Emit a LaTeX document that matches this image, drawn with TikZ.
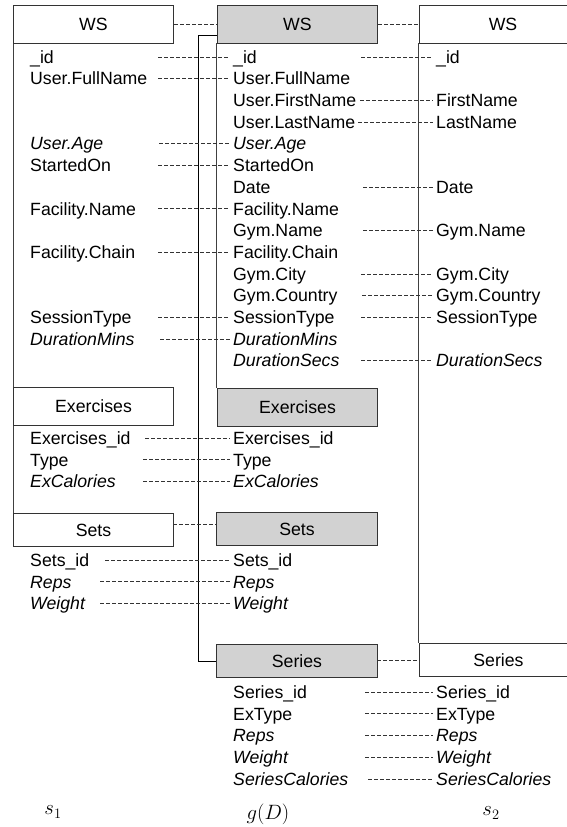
\documentclass[tikz,border=0pt]{standalone}
\usepackage{fontspec}
\setmainfont{Liberation Sans}
\newcommand\fldfont{\fontsize{17.7}{21.7}\selectfont}
\newcommand\lblfont{\fontsize{20.74}{25}\selectfont}
\tikzset{
  hdr/.style={draw=black!80, line width=1pt, fill=white, inner sep=0pt,
              anchor=north west, minimum width=160pt, minimum height=38pt, font=\fldfont},
  hdrg/.style={hdr, fill=gray!35},
  fld/.style={anchor=west, inner xsep=3.5pt, inner ysep=0pt,
              text height=12.7pt, text depth=0pt, font=\fldfont},
  ifld/.style={fld, font=\fldfont\itshape},
  conn/.style={draw=black!80, line width=0.6pt, dash pattern=on 3.5pt off 2.5pt},
  outline/.style={draw=black!75, line width=0.9pt},
  lbl/.style={font=\lblfont},
}
\begin{document}
\begin{tikzpicture}[x=1pt, y=-1pt]
\clip (0,0) rectangle (567,827);

% ---- table outlines -------------------------------------------------
\coordinate (s1bot) at (13,529);
\draw[outline] (13,43) -- (s1bot);
\draw[outline] (216.5,43) -- (216.5,388);
\draw[outline] (418.5,43) -- (418.5,643);
\coordinate (gtop) at (198,35);
\coordinate (gbot) at (198,661);
\draw[draw=black, line width=0.9pt] (217,35) -- (gtop) -- (gbot) -- (216,661);

% ---- header boxes -----------------------------------------------------
\node[hdr]  (s1ws)  at (13,5)    {WS};
\node[hdrg] (gws)   at (217,5)   {WS};
\node[hdr, minimum width=168pt] (s2ws) at (418.5,5) {WS};

\node[hdr]  (s1ex)  at (13,387)  {Exercises};
\node[hdrg] (gex)   at (217,388) {Exercises};

\node[hdr,  minimum height=33pt] (s1sets) at (13,513)  {Sets};
\node[hdrg, minimum height=33pt, minimum width=161pt] (gsets) at (216,512) {Sets};

\node[hdrg, minimum height=33pt, minimum width=161pt] (gser) at (216,644) {Series};
\node[hdr,  minimum height=33pt, minimum width=158pt] (s2ser) at (419,643) {Series};

% ---- header connectors ----------------------------------------------
\draw[conn] (s1ws.east) -- (gws.west);
\draw[conn] (gws.east) -- (s2ws.west);
\coordinate (setsy) at (173,524);
\draw[conn] (setsy) -- (setsy -| gsets.west);
\coordinate (sery) at (377,660);
\draw[conn] (sery) -- (sery -| s2ser.west);

% ---- s1 fields --------------------------------------------------------
\node[fld]  (a0)  at (26.5,56.8)  {\_id};
\node[fld]  (a1)  at (26.5,78.5)  {User.FullName};
\node[ifld] (a4)  at (26.5,143.6) {User.Age};
\node[fld]  (a5)  at (26.5,165.3) {StartedOn};
\node[fld]  (a7)  at (26.5,208.7) {Facility.Name};
\node[fld]  (a9)  at (26.5,252.1) {Facility.Chain};
\node[fld]  (a12) at (26.5,317.2) {SessionType};
\node[ifld] (a13) at (26.5,338.9) {DurationMins};

\node[fld]  (ae0) at (26.5,438.0) {Exercises\_id};
\node[fld]  (ae1) at (26.5,459.7) {Type};
\node[ifld] (ae2) at (26.5,481.4) {ExCalories};

\node[fld]  (as0) at (26.5,560.0) {Sets\_id};
\node[ifld] (as1) at (26.5,581.7) {Reps};
\node[ifld] (as2) at (26.5,603.4) {Weight};

% ---- g(D) fields ------------------------------------------------------
\node[fld]  (b0)  at (229.5,56.8)  {\_id};
\node[fld]  (b1)  at (229.5,78.5)  {User.FullName};
\node[fld]  (b2)  at (229.5,100.2) {User.FirstName};
\node[fld]  (b3)  at (229.5,121.9) {User.LastName};
\node[ifld] (b4)  at (229.5,143.6) {User.Age};
\node[fld]  (b5)  at (229.5,165.3) {StartedOn};
\node[fld]  (b6)  at (229.5,187.0) {Date};
\node[fld]  (b7)  at (229.5,208.7) {Facility.Name};
\node[fld]  (b8)  at (229.5,230.4) {Gym.Name};
\node[fld]  (b9)  at (229.5,252.1) {Facility.Chain};
\node[fld]  (b10) at (229.5,273.8) {Gym.City};
\node[fld]  (b11) at (229.5,295.5) {Gym.Country};
\node[fld]  (b12) at (229.5,317.2) {SessionType};
\node[ifld] (b13) at (229.5,338.9) {DurationMins};
\node[ifld] (b14) at (229.5,360.6) {DurationSecs};

\node[fld]  (be0) at (229.5,438.0) {Exercises\_id};
\node[fld]  (be1) at (229.5,459.7) {Type};
\node[ifld] (be2) at (229.5,481.4) {ExCalories};

\node[fld]  (bs0) at (229.5,560.0) {Sets\_id};
\node[ifld] (bs1) at (229.5,581.7) {Reps};
\node[ifld] (bs2) at (229.5,603.4) {Weight};

\node[fld]  (br0) at (229.5,692.0) {Series\_id};
\node[fld]  (br1) at (229.5,713.7) {ExType};
\node[ifld] (br2) at (229.5,735.4) {Reps};
\node[ifld] (br3) at (229.5,757.1) {Weight};
\node[ifld] (br4) at (229.5,778.8) {SeriesCalories};

% ---- s2 fields --------------------------------------------------------
\node[fld]  (c0)  at (432.5,56.8)  {\_id};
\node[fld]  (c2)  at (432.5,100.2) {FirstName};
\node[fld]  (c3)  at (432.5,121.9) {LastName};
\node[fld]  (c6)  at (432.5,187.0) {Date};
\node[fld]  (c8)  at (432.5,230.4) {Gym.Name};
\node[fld]  (c10) at (432.5,273.8) {Gym.City};
\node[fld]  (c11) at (432.5,295.5) {Gym.Country};
\node[fld]  (c12) at (432.5,317.2) {SessionType};
\node[ifld] (c14) at (432.5,360.6) {DurationSecs};

\node[fld]  (cr0) at (432.5,692.0) {Series\_id};
\node[fld]  (cr1) at (432.5,713.7) {ExType};
\node[ifld] (cr2) at (432.5,735.4) {Reps};
\node[ifld] (cr3) at (432.5,757.1) {Weight};
\node[ifld] (cr4) at (432.5,778.8) {SeriesCalories};

% ---- field connectors -------------------------------------------------
\foreach \x/\n in {158/b0, 158/b1, 159/b4, 158/b5, 158/b7, 158/b9, 158/b12, 160/b13,
                   145/be0, 143/be1, 143/be2, 105/bs0, 100/bs1, 100/bs2,
                   361/c0, 360/c2, 358/c3, 363/c6, 363/c8, 361/c10, 362/c11, 361/c12, 361/c14,
                   365/cr0, 365/cr1, 365/cr2, 365/cr3, 368/cr4} {
  \coordinate (st\n) at (\x,0);
  \draw[conn] (st\n |- \n.west) -- (\n.west);
}

% ---- column labels ----------------------------------------------------
\node[lbl] (l1) at (53,812)  {$s_1$};
\node[lbl] (l2) at (268,814) {$g(D)$};
\node[lbl] (l3) at (491,813) {$s_2$};
\end{tikzpicture}
\end{document}
